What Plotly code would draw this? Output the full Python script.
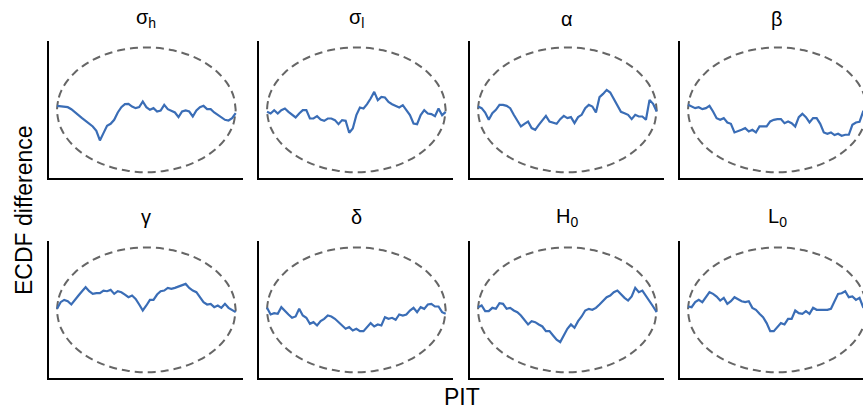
import plotly.graph_objects as go

# ---------------- data ----------------
panel_titles = ["σ<sub>h</sub>", "σ<sub>l</sub>", "α", "β",
                "γ", "δ", "H<sub>0</sub>", "L<sub>0</sub>"]

# PIT grid (0 .. 1, step 0.02)
pit = [round(i * 0.02, 2) for i in range(51)]

ecdf_sigma_h = [0.012, 0.010, 0.008, 0.008, 0.002, -0.008, -0.015, -0.025, -0.033, -0.042,
                -0.050, -0.063, -0.092, -0.070, -0.048, -0.042, -0.030, -0.008, 0.008, 0.017,
                0.018, 0.010, 0.005, 0.008, 0.025, 0.008, 0.000, 0.005, -0.005, -0.002,
                0.015, 0.002, -0.002, -0.008, -0.022, -0.005, -0.002, -0.005, -0.020, -0.002,
                0.008, 0.012, 0.002, 0.002, -0.008, -0.015, -0.022, -0.030, -0.032, -0.025,
                -0.010]
ecdf_sigma_l = [-0.006, -0.011, -0.001, -0.011, -0.001, 0.004, -0.006, -0.016, -0.023, -0.011,
                -0.001, -0.001, -0.026, -0.026, -0.019, -0.029, -0.033, -0.026, -0.026, -0.031,
                -0.043, -0.031, -0.033, -0.069, -0.056, -0.016, 0.007, 0.004, 0.017, 0.034,
                0.054, 0.029, 0.039, 0.037, 0.024, 0.017, 0.011, 0.007, 0.014, -0.001,
                -0.016, -0.041, -0.043, -0.016, -0.001, -0.011, -0.013, -0.019, 0.004, -0.016,
                -0.006]
ecdf_alpha = [0.010, 0.005, -0.008, -0.030, -0.010, 0.000, 0.015, 0.015, 0.012, 0.005,
              -0.015, -0.032, -0.050, -0.042, -0.035, -0.055, -0.060, -0.045, -0.030, -0.018,
              -0.035, -0.038, -0.042, -0.028, -0.018, -0.025, -0.022, -0.040, -0.022, -0.015,
              0.005, 0.015, 0.010, -0.008, 0.038, 0.048, 0.060, 0.052, 0.034, 0.012,
              -0.006, -0.010, -0.015, -0.028, -0.015, -0.020, -0.020, -0.030, 0.030, 0.018,
              -0.005]
ecdf_beta = [0.015, 0.010, 0.005, 0.008, 0.002, 0.005, 0.012, -0.005, -0.025, -0.030,
             -0.025, -0.038, -0.042, -0.068, -0.065, -0.060, -0.055, -0.065, -0.060, -0.068,
             -0.050, -0.050, -0.050, -0.035, -0.030, -0.028, -0.028, -0.040, -0.035, -0.040,
             -0.050, -0.022, -0.012, -0.022, -0.038, -0.025, -0.025, -0.042, -0.068, -0.072,
             -0.068, -0.076, -0.072, -0.078, -0.075, -0.075, -0.045, -0.038, -0.036, -0.005,
             0.000]
ecdf_gamma = [0.003, 0.023, 0.030, 0.026, 0.016, 0.028, 0.043, 0.056, 0.068, 0.056,
              0.048, 0.050, 0.050, 0.058, 0.056, 0.060, 0.048, 0.056, 0.053, 0.046,
              0.038, 0.043, 0.033, 0.016, -0.002, 0.013, 0.030, 0.030, 0.046, 0.056,
              0.058, 0.066, 0.063, 0.066, 0.070, 0.072, 0.078, 0.066, 0.058, 0.053,
              0.038, 0.023, 0.016, 0.018, 0.008, 0.013, 0.006, 0.018, 0.006, 0.000,
              -0.007]
ecdf_delta = [0.006, -0.014, -0.010, -0.012, 0.008, -0.004, -0.014, -0.024, -0.020, 0.003,
              -0.017, -0.024, -0.042, -0.037, -0.047, -0.034, -0.027, -0.017, -0.020, -0.027,
              -0.037, -0.044, -0.057, -0.052, -0.062, -0.057, -0.064, -0.064, -0.052, -0.040,
              -0.050, -0.044, -0.047, -0.022, -0.027, -0.024, -0.030, -0.014, -0.017, -0.014,
              -0.002, 0.006, -0.007, 0.008, 0.003, 0.016, 0.018, 0.010, 0.010, -0.007,
              -0.012]
ecdf_H0 = [0.008, 0.013, -0.004, -0.004, 0.006, 0.003, 0.020, 0.018, 0.003, 0.006,
           -0.002, -0.007, -0.017, -0.032, -0.044, -0.034, -0.037, -0.044, -0.050, -0.064,
           -0.064, -0.077, -0.090, -0.097, -0.077, -0.057, -0.044, -0.054, -0.034, -0.020,
           -0.002, 0.003, 0.000, 0.006, 0.016, 0.028, 0.038, 0.043, 0.053, 0.058,
           0.046, 0.036, 0.028, 0.040, 0.066, 0.053, 0.058, 0.043, 0.028, 0.010,
           -0.007]
ecdf_L0 = [0.010, 0.008, 0.023, 0.030, 0.023, 0.038, 0.053, 0.048, 0.040, 0.028,
           0.036, 0.018, 0.026, 0.038, 0.032, 0.026, 0.023, 0.026, 0.006, 0.000,
           -0.012, -0.022, -0.040, -0.064, -0.064, -0.052, -0.040, -0.044, -0.027, -0.027,
           -0.002, -0.010, -0.012, -0.004, -0.012, 0.006, 0.000, 0.000, 0.000, 0.000,
           0.003, 0.028, 0.048, 0.050, 0.056, 0.038, 0.040, 0.030, 0.036, 0.008,
           -0.002]

series = [ecdf_sigma_h, ecdf_sigma_l, ecdf_alpha, ecdf_beta,
          ecdf_gamma, ecdf_delta, ecdf_H0, ecdf_L0]

# simultaneous confidence envelope (upper half; lower is its mirror)
env_x = [0.0, 0.01, 0.025, 0.05, 0.1, 0.15, 0.2, 0.25, 0.3, 0.35, 0.4, 0.45, 0.5,
         0.55, 0.6, 0.65, 0.7, 0.75, 0.8, 0.85, 0.9, 0.95, 0.975, 0.99, 1.0]
env_up = [0.0, 0.0373, 0.0585, 0.0817, 0.1125, 0.1339, 0.150, 0.1624, 0.1718, 0.1789,
          0.1837, 0.1866, 0.1875, 0.1866, 0.1837, 0.1789, 0.1718, 0.1624, 0.150, 0.1339,
          0.1125, 0.0817, 0.0585, 0.0373, 0.0]

# ---------------- figure ----------------
W, H = 863, 412
BLUE = "#3a6db6"
GREY = "#666666"
FONT = "Liberation Sans, Arial, sans-serif"

col_left = [49, 259, 470, 680]     # px
col_width = 194
row_top = [41, 241]
row_height = 137
x_lo, x_hi = -0.045, 1.041
px_per_unit = col_width / (x_hi - x_lo)

env_path_x = env_x + env_x[::-1]
env_path_y = env_up + [-v for v in env_up[::-1]]

fig = go.Figure()
layout = dict(
    width=W, height=H,
    margin=dict(l=0, r=0, t=0, b=0),
    paper_bgcolor="white", plot_bgcolor="white",
    showlegend=False,
    font=dict(family=FONT, color="black"),
)
annotations = []

for i, (vals, title) in enumerate(zip(series, panel_titles)):
    r, c = divmod(i, 4)
    n = i + 1
    xa = "x" if n == 1 else f"x{n}"
    ya = "y" if n == 1 else f"y{n}"
    left = col_left[c]
    right = min(left + col_width, W)
    xr_hi = x_lo + (right - left) / px_per_unit
    top = row_top[r]
    bottom = top + row_height

    fig.add_trace(go.Scatter(x=env_path_x, y=env_path_y, mode="lines",
                             line=dict(color=GREY, width=2, dash="8px,5px", shape="spline"),
                             xaxis=xa, yaxis=ya, hoverinfo="skip"))
    fig.add_trace(go.Scatter(x=pit, y=vals, mode="lines",
                             line=dict(color=BLUE, width=2.2),
                             xaxis=xa, yaxis=ya))

    axis_common = dict(showgrid=False, zeroline=False, showticklabels=False, ticks="",
                       showline=True, linecolor="black", linewidth=1.5, fixedrange=True)
    layout["xaxis" if n == 1 else f"xaxis{n}"] = dict(
        domain=[left / W, right / W], range=[x_lo, xr_hi], anchor=ya, **axis_common)
    layout["yaxis" if n == 1 else f"yaxis{n}"] = dict(
        domain=[1 - bottom / H, 1 - top / H], range=[-0.205, 0.207], anchor=xa, **axis_common)

    annotations.append(dict(text=title, x=(left + col_width / 2) / W,
                            y=1 - (19 if r == 0 else 217) / H,
                            xref="paper", yref="paper", showarrow=False,
                            xanchor="center", yanchor="middle",
                            font=dict(size=20, family=FONT, color="black")))

annotations.append(dict(text="ECDF difference", x=24 / W, y=1 - 210 / H, xref="paper",
                        yref="paper", showarrow=False, textangle=-90,
                        xanchor="center", yanchor="middle",
                        font=dict(size=23, family=FONT, color="black")))
annotations.append(dict(text="PIT", x=462 / W, y=1 - 397 / H, xref="paper",
                        yref="paper", showarrow=False,
                        xanchor="center", yanchor="middle",
                        font=dict(size=23, family=FONT, color="black")))
layout["annotations"] = annotations
fig.update_layout(**layout)

fig.write_html("out.html",
               config={"displayModeBar": False},
               post_script="document.body.style.margin='0';document.body.style.overflow='hidden';")
